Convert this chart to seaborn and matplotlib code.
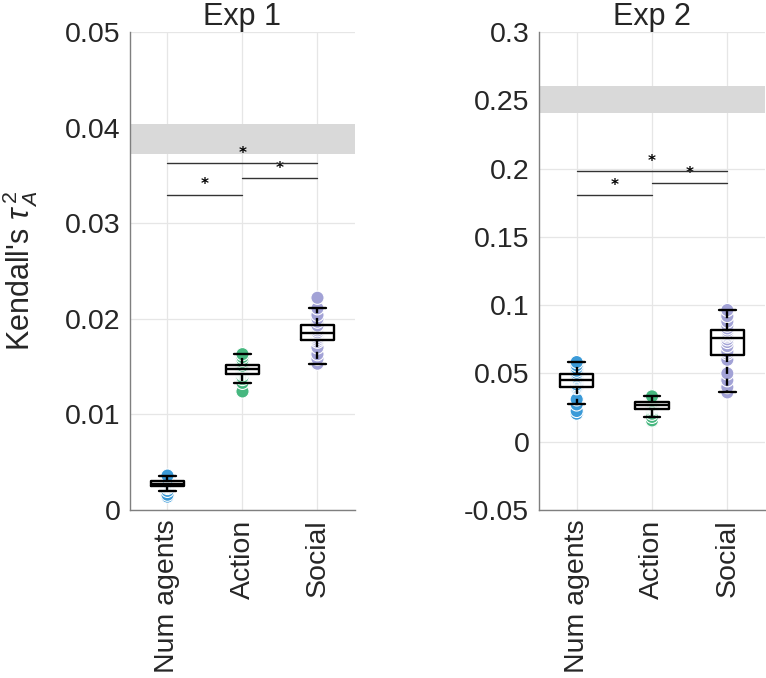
import matplotlib
matplotlib.use("Agg")
import matplotlib.pyplot as plt
import seaborn as sns
import pandas as pd

# ── Data ──────────────────────────────────────────────────────────────────────
categories = ["Num agents", "Action", "Social"]
palette = ["#3a9ad8", "#46b77f", "#a2a2d6"]

exp1_num = [0.0014, 0.0016, 0.0020, 0.0023, 0.0024, 0.0025, 0.0025, 0.0026, 0.0027, 0.0027,
            0.0028, 0.0028, 0.0029, 0.0029, 0.0030, 0.0031, 0.0032, 0.0033, 0.0035, 0.0036]
exp1_action = [0.0124, 0.0133, 0.0137, 0.0139, 0.0142, 0.0143, 0.0144, 0.0145, 0.0146, 0.0147,
               0.0148, 0.0148, 0.0149, 0.0150, 0.0151, 0.0153, 0.0155, 0.0157, 0.0160, 0.0163]
exp1_social = [0.0153, 0.0158, 0.0163, 0.0170, 0.0176, 0.0178, 0.0180, 0.0182, 0.0184, 0.0185,
               0.0186, 0.0188, 0.0190, 0.0192, 0.0193, 0.0197, 0.0200, 0.0204, 0.0211, 0.0222]

exp2_num = [0.0205, 0.0225, 0.0273, 0.0310, 0.0392, 0.0400, 0.0410, 0.0420, 0.0440, 0.0448,
            0.0455, 0.0462, 0.0470, 0.0480, 0.0492, 0.0505, 0.0520, 0.0540, 0.0560, 0.0583]
exp2_action = [0.0150, 0.0156, 0.0182, 0.0205, 0.0230, 0.0243, 0.0250, 0.0255, 0.0260, 0.0264,
               0.0267, 0.0270, 0.0278, 0.0285, 0.0290, 0.0300, 0.0310, 0.0318, 0.0325, 0.0332]
exp2_social = [0.0361, 0.0400, 0.0450, 0.0500, 0.0600, 0.0645, 0.0660, 0.0700, 0.0730, 0.0750,
               0.0770, 0.0780, 0.0790, 0.0800, 0.0815, 0.0830, 0.0850, 0.0880, 0.0920, 0.0964]

# noise-ceiling band and significance bars
exp1_band = (0.0372, 0.0404)
exp2_band = (0.2405, 0.2605)
sig_pairs = [(0, 1), (1, 2), (0, 2)]
exp1_sig_y = [0.0330, 0.0347, 0.0363]
exp2_sig_y = [0.1804, 0.1892, 0.1982]

exp1_ticks = [0, 0.01, 0.02, 0.03, 0.04, 0.05]
exp2_ticks = [-0.05, 0, 0.05, 0.1, 0.15, 0.2, 0.25, 0.3]


def long_df(groups):
    rows = []
    for cat, vals in zip(categories, groups):
        rows += [(cat, v) for v in vals]
    return pd.DataFrame(rows, columns=["cond", "tau"])


# ── Style ─────────────────────────────────────────────────────────────────────
sns.set_style("whitegrid")
plt.rcParams["font.family"] = ["Liberation Sans", "DejaVu Sans"]
plt.rcParams["axes.unicode_minus"] = False
plt.rcParams["mathtext.fontset"] = "custom"
plt.rcParams["mathtext.it"] = "Liberation Sans:italic"
plt.rcParams["mathtext.rm"] = "Liberation Sans"

fig = plt.figure(figsize=(7.66, 6.78), dpi=100)
ax1 = fig.add_axes([0.1697, 0.2478, 0.2937, 0.7050])
ax2 = fig.add_axes([0.7037, 0.2478, 0.2950, 0.7050])


def draw_panel(ax, groups, band, sig_y, ylim, ticks, title):
    df = long_df(groups)
    ax.axhspan(band[0], band[1], color="#d9d9d9", lw=0, zorder=0.9)

    sns.stripplot(data=df, x="cond", y="tau", hue="cond", order=categories,
                  hue_order=categories, palette=palette, jitter=False, size=9.5,
                  edgecolor="white", linewidth=0.8, legend=False, ax=ax, zorder=1)
    sns.boxplot(data=df, x="cond", y="tau", order=categories, color="black",
                fill=False, width=0.44, linewidth=1.7, showfliers=False,
                whiskerprops=dict(linestyle=(0, (3, 2))), ax=ax)

    for (a, b), y in zip(sig_pairs, sig_y):
        ax.plot([a, b], [y, y], color="#333333", lw=1.0, zorder=3)
        ax.annotate("*", xy=((a + b) / 2, y), xytext=(0, 1.5), textcoords="offset points",
                    ha="center", va="bottom", fontsize=11, fontweight="bold",
                    family="DejaVu Sans", color="black")

    ax.set_xlim(-0.5, 2.5)
    ax.set_ylim(*ylim)
    ax.set_yticks(ticks)
    ax.set_yticklabels([f"{t:g}" for t in ticks])
    ax.set_xticks(range(len(categories)))
    ax.set_xticklabels(categories, rotation=90)
    ax.xaxis.grid(True)
    ax.yaxis.grid(True)
    ax.grid(color="#e6e6e6", lw=0.9)
    ax.set_axisbelow(True)
    ax.tick_params(axis="both", length=0, labelsize=20.5, colors="#262626", pad=7)
    for side in ["top", "right"]:
        ax.spines[side].set_visible(False)
    for side in ["left", "bottom"]:
        ax.spines[side].set_color("#7f7f7f")
        ax.spines[side].set_linewidth(1.0)
    ax.set_xlabel("")
    ax.set_ylabel("")
    ax.set_title(title, fontsize=22, pad=5)


draw_panel(ax1, [exp1_num, exp1_action, exp1_social], exp1_band, exp1_sig_y,
           (0, 0.05), exp1_ticks, "Exp 1")
draw_panel(ax2, [exp2_num, exp2_action, exp2_social], exp2_band, exp2_sig_y,
           (-0.05, 0.3), exp2_ticks, "Exp 2")

ax1.set_ylabel(r"Kendall's $\tau^{\,2}_{\,A}$", fontsize=22)
ax1.yaxis.set_label_coords(-0.40, 0.5)

fig.savefig("out.png", dpi=100)
